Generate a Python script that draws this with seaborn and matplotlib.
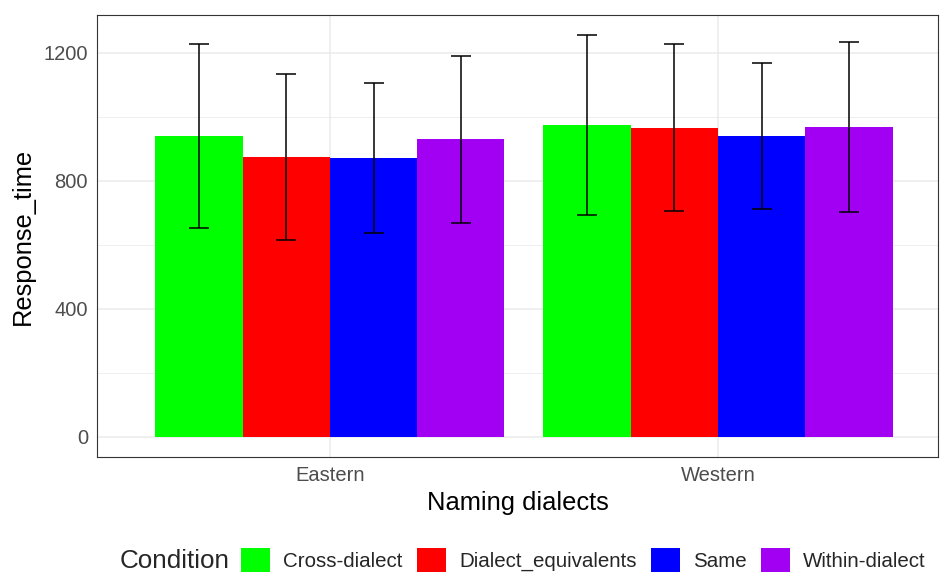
import pandas as pd
import matplotlib.pyplot as plt
import seaborn as sns
from matplotlib.ticker import MultipleLocator

# Values
dialects = ["Eastern", "Western"]
conditions = ["Cross-dialect", "Dialect_equivalents", "Same", "Within-dialect"]
mean_rt = {
    "Cross-dialect": [940, 973],
    "Dialect_equivalents": [875, 966],
    "Same": [871, 940],
    "Within-dialect": [930, 968],
}
sd_rt = {
    "Cross-dialect": [286, 281],
    "Dialect_equivalents": [259, 261],
    "Same": [234, 227],
    "Within-dialect": [261, 266],
}
colors = ["#00FF00", "#FF0000", "#0000FF", "#A100F2"]

rows = []
for c in conditions:
    for i, d in enumerate(dialects):
        rows.append({"Naming dialects": d, "Condition": c,
                     "Response_time": mean_rt[c][i], "sd": sd_rt[c][i]})
df = pd.DataFrame(rows)

sns.set_theme(style="whitegrid")
plt.rcParams["font.family"] = ["Liberation Sans", "DejaVu Sans"]

fig = plt.figure(figsize=(9.4, 5.72), dpi=100)
ax = fig.add_axes([97 / 940, 115 / 572, 841 / 940, 442 / 572])

sns.barplot(data=df, x="Naming dialects", y="Response_time", hue="Condition",
            order=dialects, hue_order=conditions, palette=colors,
            errorbar=None, width=0.9, saturation=1, linewidth=0, ax=ax)

# error bars (mean +/- sd)
for cond, cont in zip(conditions, ax.containers):
    xs = [b.get_x() + b.get_width() / 2 for b in cont]
    ys = [b.get_height() for b in cont]
    ax.errorbar(xs, ys, yerr=sd_rt[cond], fmt="none", ecolor="black",
                elinewidth=1.1, capsize=7, capthick=1.1, zorder=5)

ax.set_xlim(-0.6, 1.567)
ax.set_ylim(-63, 1318)
ax.yaxis.set_major_locator(MultipleLocator(400))
ax.yaxis.set_minor_locator(MultipleLocator(200))
ax.set_axisbelow(True)
ax.grid(which="major", color="#EBEBEB", linewidth=1.1)
ax.grid(which="minor", axis="y", color="#EBEBEB", linewidth=0.55)
ax.grid(which="major", axis="x", color="#EBEBEB", linewidth=1.1)
for s in ax.spines.values():
    s.set_color("#333333")
    s.set_linewidth(0.8)
ax.tick_params(axis="both", which="major", length=3.5, width=1, color="#333333",
               labelsize=14.5, labelcolor="#4D4D4D", pad=3)
ax.tick_params(axis="y", which="minor", length=0)
ax.set_xlabel("Naming dialects", fontsize=18.4, color="black", labelpad=4)
ax.set_ylabel("Response_time", fontsize=18.4, color="black", labelpad=6)

handles, labels = ax.get_legend_handles_labels()
ax.get_legend().remove()
fig.text(120 / 940, 1 - 561 / 572, "Condition", fontsize=18.7, va="center", ha="left")
fig.legend(handles, labels, loc="center left", bbox_to_anchor=(241 / 940, 1 - 560 / 572),
           ncol=4, frameon=False, fontsize=14.8, handlelength=1.4, handleheight=1.4,
           handletextpad=0.65, columnspacing=0.7, borderpad=0, borderaxespad=0)

fig.savefig("out.png", dpi=100)
